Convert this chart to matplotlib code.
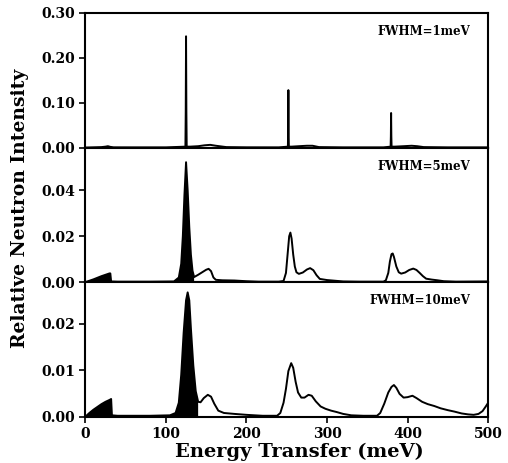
import numpy as np
import matplotlib
matplotlib.use("Agg")
import matplotlib.pyplot as plt

# energy transfer (meV) and intensities
e_1 = [0, 10, 20, 25, 28, 31, 35, 60, 100, 124.2, 124.6, 125, 125.4, 125.8, 130, 140,
       148, 155, 162, 175, 200, 240, 251.4, 251.7, 252, 252.3, 252.6, 256, 265, 275,
       282, 290, 320, 370, 378.9, 379.2, 379.5, 379.8, 380.1, 384, 395, 405, 412, 420,
       450, 500]
i_1 = [0, 0.0005, 0.001, 0.002, 0.003, 0.0015, 0.0005, 0.0004, 0.0004, 0.002, 0.08,
       0.248, 0.08, 0.002, 0.002, 0.003, 0.005, 0.006, 0.004, 0.001, 0.0005, 0.0004,
       0.002, 0.04, 0.128, 0.04, 0.002, 0.002, 0.003, 0.004, 0.004, 0.001, 0.0004,
       0.0004, 0.002, 0.025, 0.077, 0.025, 0.002, 0.002, 0.003, 0.004, 0.003, 0.001,
       0.0004, 0.0004]

e_5 = [0, 5, 10, 15, 20, 25, 30, 31, 32, 40, 80, 110, 116, 119, 121, 123, 125, 127,
       129, 131, 133, 135, 140, 145, 150, 153, 156, 159, 162, 170, 185, 200, 215, 240,
       246, 249, 251, 253, 254.5, 256, 258, 260, 262, 265, 270, 275, 279, 283, 287,
       291, 300, 310, 320, 340, 370, 373, 376, 378, 380, 381.5, 383, 386, 389, 392,
       397, 402, 407, 411, 415, 419, 423, 430, 437, 445, 460, 500]
i_5 = [0, 0.0006, 0.0012, 0.0019, 0.0026, 0.0032, 0.0038, 0.0038, 0.0003, 0.0002,
       0.0002, 0.0003, 0.002, 0.008, 0.02, 0.038, 0.0523, 0.040, 0.024, 0.012, 0.005,
       0.0022, 0.0032, 0.0043, 0.0054, 0.0058, 0.0048, 0.002, 0.0010, 0.0008, 0.0007,
       0.0004, 0.0002, 0.0002, 0.0005, 0.004, 0.012, 0.020, 0.0216, 0.019, 0.012,
       0.0068, 0.0043, 0.0036, 0.0042, 0.0055, 0.0061, 0.0052, 0.003, 0.0014, 0.0009,
       0.0006, 0.0003, 0.0002, 0.0002, 0.0008, 0.004, 0.009, 0.0122, 0.0125, 0.011,
       0.0068, 0.0043, 0.0037, 0.0042, 0.0053, 0.0059, 0.0053, 0.004, 0.0026, 0.0015,
       0.0011, 0.0008, 0.0004, 0.0002, 0.0003]

e_10 = [0, 5, 10, 15, 20, 25, 30, 32, 33, 40, 80, 105, 112, 116, 119, 122, 125, 127,
        129, 131, 134, 137, 140, 143, 147, 152, 156, 160, 165, 172, 185, 200, 220, 238,
        242, 246, 249, 252, 255.5, 258, 261, 264, 268, 272, 277, 281, 286, 292, 298,
        305, 312, 320, 330, 345, 362, 366, 371, 376, 380, 383, 386, 390, 395, 400,
        406, 411, 418, 425, 433, 441, 450, 458, 467, 475, 482, 488, 493, 497, 500]
i_10 = [0, 0.0008, 0.0015, 0.0021, 0.0027, 0.0032, 0.0036, 0.0038, 0.0003, 0.0002,
        0.0002, 0.0003, 0.0008, 0.003, 0.009, 0.018, 0.025, 0.0267, 0.025, 0.019,
        0.011, 0.0055, 0.0032, 0.0031, 0.0040, 0.0047, 0.0043, 0.0028, 0.0013, 0.0008,
        0.0006, 0.0004, 0.0002, 0.0002, 0.0008, 0.003, 0.006, 0.0098, 0.0115, 0.0105,
        0.0075, 0.0052, 0.0041, 0.0041, 0.0047, 0.0045, 0.0033, 0.0022, 0.0017, 0.0013,
        0.0010, 0.0006, 0.0003, 0.0002, 0.0002, 0.0008, 0.0028, 0.0052, 0.0064, 0.0068,
        0.0062, 0.0049, 0.0041, 0.0042, 0.0045, 0.004, 0.0032, 0.0027, 0.0023, 0.0018,
        0.0014, 0.0011, 0.0007, 0.0005, 0.0004, 0.0006, 0.0012, 0.0022, 0.003]

panels = [
    (e_1, i_1, "FWHM=1meV", 0.30, [0, 0.10, 0.20, 0.30], [(0, 31), (124, 126)]),
    (e_5, i_5, "FWHM=5meV", 0.0587, [0, 0.02, 0.04], [(0, 32), (110, 135)]),
    (e_10, i_10, "FWHM=10meV", 0.0289, [0, 0.01, 0.02], [(0, 33), (105, 140)]),
]

plt.rcParams['font.family'] = 'DejaVu Serif'
plt.rcParams['font.weight'] = 'bold'

fig, axes = plt.subplots(3, 1, figsize=(5.08, 4.63), dpi=100, sharex=True)
fig.subplots_adjust(left=0.168, right=0.961, top=0.972, bottom=0.100, hspace=0)

for ax, (e, i, label, ytop, yt, fills) in zip(axes, panels):
    e = np.array(e)
    i = np.array(i)
    ax.plot(e, i, color='black', lw=1.4)
    # filled parts: low-energy ramp and the main peak
    mask = np.zeros(len(e), dtype=bool)
    for lo, hi in fills:
        mask |= (e >= lo) & (e <= hi)
    ax.fill_between(e, 0, i, where=mask, color='black', lw=0)
    ax.set_xlim(0, 500)
    ax.set_ylim(0, ytop)
    ax.set_yticks(yt)
    ax.set_yticklabels(["%.2f" % v for v in yt])
    ax.set_xticks([0, 100, 200, 300, 400, 500])
    ax.tick_params(direction='out', length=4, width=1.2, labelsize=10)
    for s in ax.spines.values():
        s.set_linewidth(1.5)
    ax.text(0.955, 0.86, label, transform=ax.transAxes, ha='right', va='center',
            fontsize=8.5, fontweight='bold')

axes[2].set_xticklabels(["0", "100", "200", "300", "400", "500"])

fig.text(0.589, 0.024, "Energy Transfer (meV)", ha='center', va='center',
         fontsize=14, fontweight='bold')
fig.text(0.04, 0.55, "Relative Neutron Intensity", ha='center', va='center',
         rotation=90, fontsize=13.5, fontweight='bold')

fig.savefig("out.png", dpi=100)
